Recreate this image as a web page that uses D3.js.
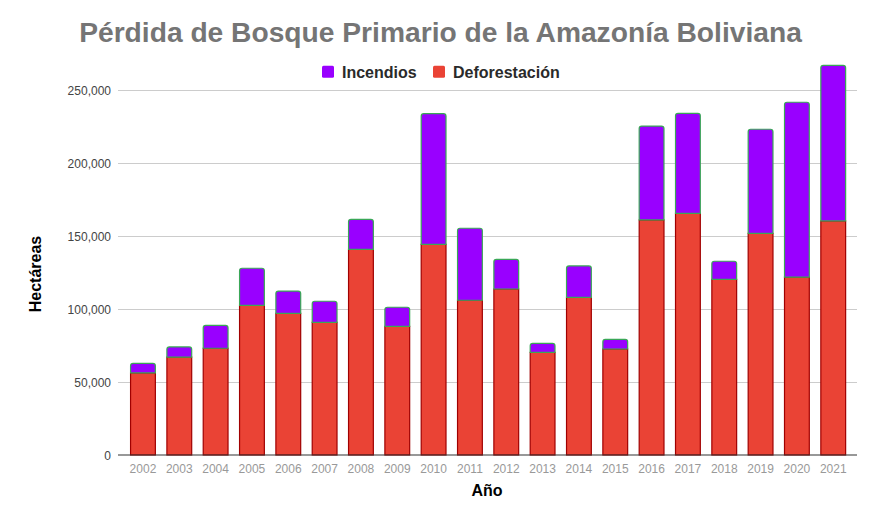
<!DOCTYPE html>
<html>
<head>
<meta charset="utf-8">
<script src="https://cdn.jsdelivr.net/npm/d3@7"></script>
<style>
html,body{margin:0;padding:0;background:#fff;}
svg{display:block;font-family:"Liberation Sans",Arial,sans-serif;}
</style>
</head>
<body>
<svg id="chart" width="869" height="508"></svg>
<script>
const years = ["2002","2003","2004","2005","2006","2007","2008","2009","2010","2011","2012","2013","2014","2015","2016","2017","2018","2019","2020","2021"];
const deforestacion = [56200,67100,73100,102500,97000,90900,140900,88100,144300,106000,113700,70300,108000,72600,161000,165500,120300,151800,121900,160300];
const incendios = [6600,6900,15700,25400,15300,14400,20500,13100,89500,49300,20300,6200,21500,6600,64300,68500,12400,71300,119700,106600];
const yTicks = [0,50000,100000,150000,200000,250000];
const seriesNames = ["Incendios","Deforestación"];
const seriesColors = ["#9900ff","#ea4335"];

const svg = d3.select("#chart");
const x = d3.scaleBand().domain(years).range([124.8, 851.4]).paddingInner(0.29).paddingOuter(0.145);
const y = d3.scaleLinear().domain([0, 250000]).range([455, 90]);

// gridlines
svg.append("g").selectAll("line").data(yTicks.filter(d => d > 0)).join("line")
  .attr("x1", 118).attr("x2", 857)
  .attr("y1", d => y(d)).attr("y2", d => y(d))
  .attr("stroke", "#cccccc").attr("stroke-width", 1).attr("shape-rendering","crispEdges");

// y tick labels
svg.append("g").selectAll("text").data(yTicks).join("text")
  .attr("x", 111).attr("y", d => y(d) + 4.5)
  .attr("text-anchor", "end").attr("font-size", 12).attr("fill", "#444")
  .text(d => d3.format(",")(d));

// red bars
const data = years.map((yr, i) => ({yr, d: deforestacion[i], f: incendios[i]}));
svg.append("g").selectAll("rect").data(data).join("rect")
  .attr("x", d => x(d.yr) + 0.5)
  .attr("y", d => y(d.d))
  .attr("width", x.bandwidth() - 1)
  .attr("height", d => y(0) - y(d.d))
  .attr("fill", seriesColors[1]).attr("stroke", "#a00000").attr("stroke-width", 1.2);

// purple bars with rounded top corners
function topRounded(x0, y0, w, h, r) {
  return `M${x0},${y0 + h}L${x0},${y0 + r}Q${x0},${y0} ${x0 + r},${y0}L${x0 + w - r},${y0}Q${x0 + w},${y0} ${x0 + w},${y0 + r}L${x0 + w},${y0 + h}Z`;
}
svg.append("g").selectAll("path").data(data).join("path")
  .attr("d", d => topRounded(x(d.yr) + 0.5, y(d.d + d.f), x.bandwidth() - 1, y(d.d) - y(d.d + d.f), 2.5))
  .attr("fill", seriesColors[0]).attr("stroke", "#3aa757").attr("stroke-width", 1.2);

// baseline
svg.append("line").attr("x1", 118).attr("x2", 857).attr("y1", y(0)).attr("y2", y(0))
  .attr("stroke", "#333").attr("stroke-width", 1.2);

// x tick labels
svg.append("g").selectAll("text").data(years).join("text")
  .attr("x", d => x(d) + x.bandwidth() / 2).attr("y", 472.5)
  .attr("text-anchor", "middle").attr("font-size", 12).attr("fill", "#999")
  .text(d => d);

// title
svg.append("text").attr("x", 440.5).attr("y", 41.5).attr("text-anchor", "middle")
  .attr("font-size", 28.2).attr("font-weight", "bold").attr("fill", "#757575")
  .text("Pérdida de Bosque Primario de la Amazonía Boliviana");

// legend
const legend = [{name: seriesNames[0], color: seriesColors[0], sx: 322}, {name: seriesNames[1], color: seriesColors[1], sx: 433}];
const lg = svg.append("g").selectAll("g").data(legend).join("g");
lg.append("rect").attr("x", d => d.sx).attr("y", 65.7).attr("width", 12).attr("height", 12).attr("rx", 1.5)
  .attr("fill", d => d.color);
lg.append("text").attr("x", d => d.sx + 20).attr("y", 77.5).attr("font-size", 16).attr("font-weight", "bold").attr("fill", "#2a2a2a")
  .text(d => d.name);

// axis titles
svg.append("text").attr("x", 487).attr("y", 496).attr("text-anchor", "middle")
  .attr("font-size", 16).attr("font-weight", "bold").attr("fill", "#000").text("Año");
svg.append("text").attr("transform", "translate(41,274) rotate(-90)").attr("text-anchor", "middle")
  .attr("font-size", 16).attr("font-weight", "bold").attr("fill", "#000").text("Hectáreas");
</script>
</body>
</html>
